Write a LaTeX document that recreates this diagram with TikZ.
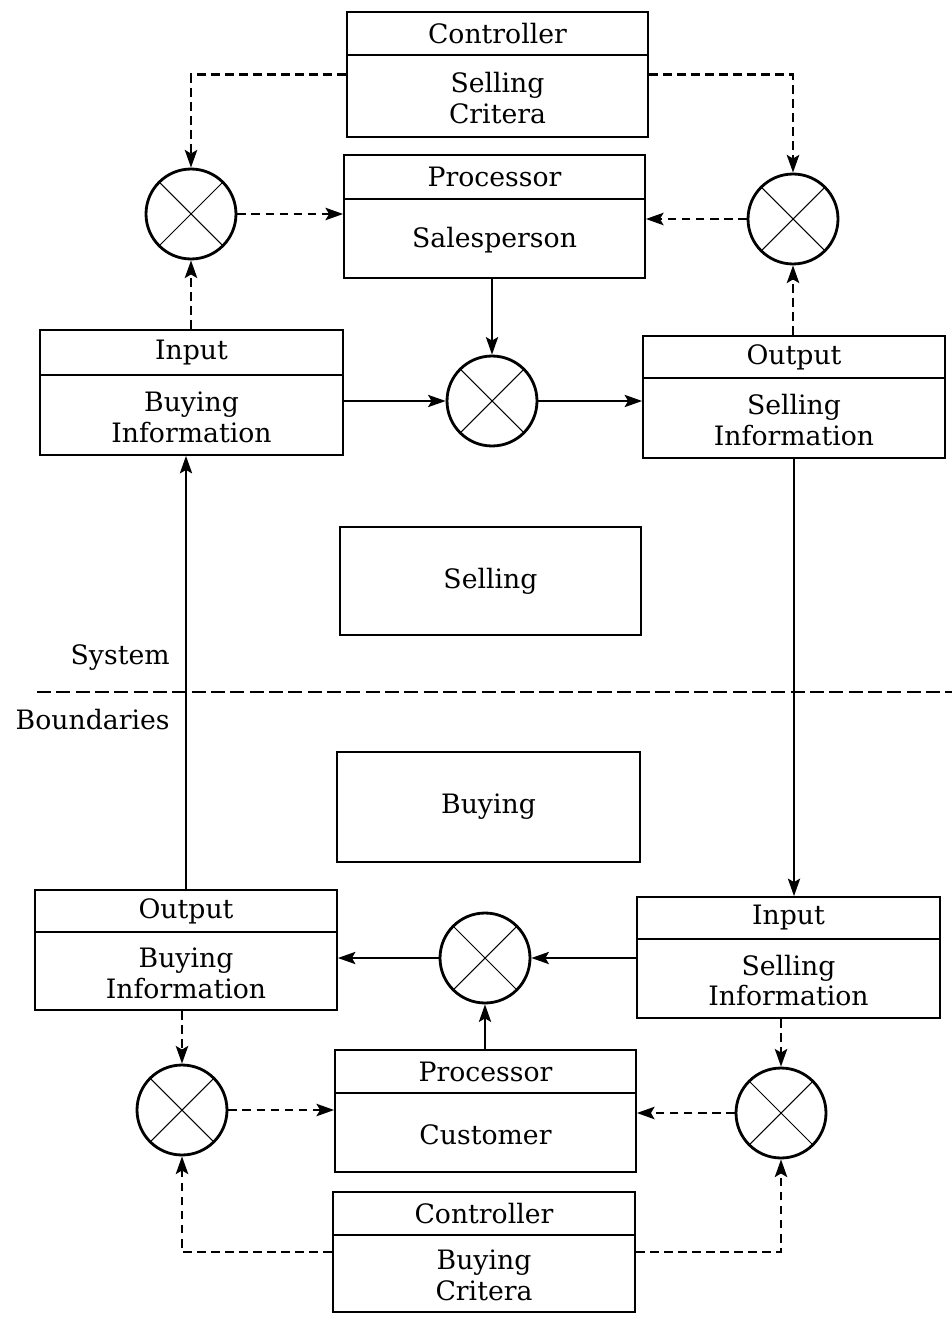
\documentclass[tikz,border=0pt]{standalone}
\usepackage{fontspec}
\setmainfont{DejaVu Serif}
\usetikzlibrary{arrows.meta,fit}

\tikzset{
  box/.style={draw, line width=1pt, inner sep=0pt},
  divider/.style={line width=1pt},
  titletext/.style={font=\fontsize{15.2pt}{17.6pt}\selectfont, inner sep=0pt},
  bodytext/.style={font=\fontsize{15.2pt}{17.6pt}\selectfont, align=center, inner sep=0pt},
  mixer/.style={draw, circle, line width=1.6pt, minimum size=1.8cm, inner sep=0pt,
    path picture={\draw[line width=0.6pt]
      (path picture bounding box.south west) -- (path picture bounding box.north east)
      (path picture bounding box.north west) -- (path picture bounding box.south east);}},
  flow/.style={line width=0.8pt, -{Stealth[length=10pt,width=7pt,inset=2pt]}},
  control/.style={line width=1.5pt, dash pattern=on 5pt off 3pt,
    -{Stealth[length=10pt,width=7pt,inset=2pt]}},
  boundary/.style={line width=1.2pt, dash pattern=on 8pt off 3pt},
  sidetext/.style={font=\fontsize{15.2pt}{17.6pt}\selectfont, inner sep=0pt, anchor=east}
}

% name, x1, y1, x2, y2, divider y, title, body
\newcommand\infobox[8]{%
  \node[box, fit={(#2,#3) (#4,#5)}] (#1) {};
  \draw[divider] (#2,#6) -- (#4,#6);
  \node[titletext] (#1-title) at ({(#2+#4)/2},{(#3+#6)/2}) {#7};
  \node[bodytext] (#1-body) at ({(#2+#4)/2},{(#6+#5)/2+2}) {#8};
}

\begin{document}
\begin{tikzpicture}[x=0.02cm, y=-0.02cm]
  \useasboundingbox (0,0) rectangle (952,1317);

  % selling side
  \infobox{tc}{347}{12}{648}{137}{55}{Controller}{Selling\\Critera}
  \infobox{tp}{344}{155}{645}{278}{199}{Processor}{Salesperson}
  \infobox{ti}{40}{330}{343}{455}{375}{Input}{Buying\\Information}
  \infobox{to}{643}{336}{945}{458}{378}{Output}{Selling\\Information}
  \node[box, fit={(340,527) (641,635)}] (sell) {};
  \node[titletext] (sell-text) at (sell) {Selling};

  % system boundary
  \node[sidetext] (sys) at (170,658) {System};
  \node[sidetext] (bnd) at (170,720) {Boundaries};
  \coordinate (bl) at (37,692);
  \coordinate (br) at (952,692);
  \draw[boundary] (bl) -- (br);

  % buying side
  \node[box, fit={(337,752) (640,862)}] (buy) {};
  \node[titletext] (buy-text) at (buy) {Buying};
  \infobox{bo}{35}{890}{337}{1010}{932}{Output}{Buying\\Information}
  \infobox{bi}{637}{897}{940}{1018}{939}{Input}{Selling\\Information}
  \infobox{bp}{335}{1050}{636}{1172}{1093}{Processor}{Customer}
  \infobox{bc}{333}{1192}{635}{1312}{1235}{Controller}{Buying\\Critera}

  % comparators
  \node[mixer] (m1) at (191,214) {};
  \node[mixer] (m2) at (793,219) {};
  \node[mixer] (m3) at (492,401) {};
  \node[mixer] (m4) at (485,958) {};
  \node[mixer] (m5) at (182,1110) {};
  \node[mixer] (m6) at (781,1113) {};

  % selling loop
  \draw[control] (tc.west) -| (m1.north);
  \draw[control] (tc.east) -| (m2.north);
  \draw[control] (m1.east) -- (tp.west |- m1.east);
  \draw[control] (m2.west) -- (tp.east |- m2.west);
  \draw[control] (ti.north -| m1.south) -- (m1.south);
  \draw[control] (to.north -| m2.south) -- (m2.south);
  \draw[flow] (tp.south -| m3.north) -- (m3.north);
  \draw[flow] (ti.east |- m3.west) -- (m3.west);
  \draw[flow] (m3.east) -- (to.west |- m3.east);

  % exchange across the boundary
  \draw[flow] (to.south) -- (to.south |- bi.north);
  \draw[flow] (bo.north) -- (bo.north |- ti.south);

  % buying loop
  \draw[flow] (bi.west |- m4.east) -- (m4.east);
  \draw[flow] (m4.west) -- (bo.east |- m4.west);
  \draw[flow] (bp.north -| m4.south) -- (m4.south);
  \draw[control] (bo.south -| m5.north) -- (m5.north);
  \draw[control] (bi.south -| m6.north) -- (m6.north);
  \draw[control] (m5.east) -- (bp.west |- m5.east);
  \draw[control] (m6.west) -- (bp.east |- m6.west);
  \draw[control] (bc.west) -| (m5.south);
  \draw[control] (bc.east) -| (m6.south);
\end{tikzpicture}
\end{document}
